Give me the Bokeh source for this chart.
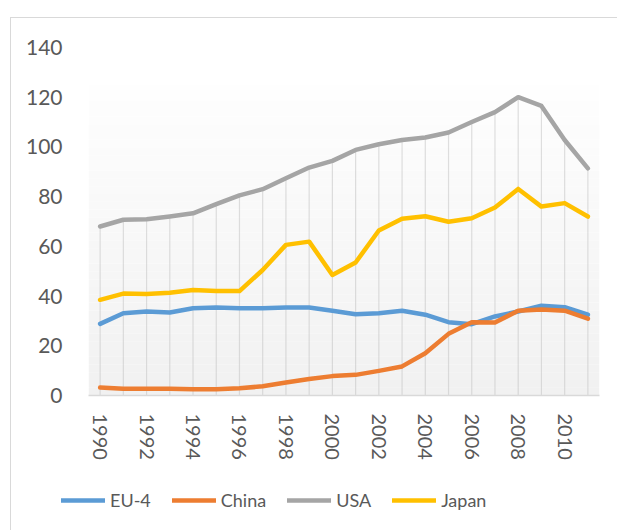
import math
from bokeh.plotting import figure
from bokeh.layouts import column, row
from bokeh.models import (Range1d, FixedTicker, BoxAnnotation, Legend, LegendItem)
from bokeh.embed import file_html
from bokeh.resources import INLINE

years = list(range(1990, 2012))
eu4 = [28.8, 33.1, 33.8, 33.4, 35.1, 35.4, 35.1, 35.1, 35.4, 35.4, 34.1,
       32.7, 33.1, 34.1, 32.5, 29.5, 28.7, 31.8, 33.8, 36.1, 35.5, 32.5]
china = [3.2, 2.7, 2.7, 2.7, 2.5, 2.5, 2.9, 3.7, 5.2, 6.6, 7.8,
         8.3, 9.9, 11.7, 17.0, 24.8, 29.5, 29.4, 34.1, 34.6, 34.1, 30.9]
usa = [68.0, 70.7, 70.9, 72.0, 73.3, 77.0, 80.5, 83.0, 87.4, 91.7, 94.4,
       98.8, 101.1, 102.8, 103.8, 105.8, 110.0, 114.0, 120.0, 116.5, 102.8, 91.4]
japan = [38.5, 41.0, 40.8, 41.3, 42.4, 42.0, 42.0, 50.5, 60.6, 61.9, 48.5,
         53.5, 66.4, 71.1, 72.1, 69.9, 71.3, 75.6, 83.1, 76.0, 77.4, 72.0]
series_names = ["EU-4", "China", "USA", "Japan"]
series_colors = ["#5b9bd5", "#ed7d31", "#a5a5a5", "#ffc000"]
x_ticks = list(range(1990, 2011, 2))
y_ticks = [0, 20, 40, 60, 80, 100, 120, 140]

FONT = "Lato"
TXT = "#595959"
LW = 4.5

p = figure(width=617, height=470, output_backend="svg", toolbar_location=None,
           x_range=Range1d(1989.5, 2011.5), y_range=Range1d(0, 140),
           min_border_left=88, min_border_right=18, min_border_top=47,
           min_border_bottom=75)
p.outline_line_color = None
p.background_fill_color = "white"
p.border_fill_color = None
p.xgrid.visible = False
p.ygrid.visible = False

# gradient-like plot background
n = 40
top_v = 124.7
for i in range(n):
    b = top_v * i / n
    t = top_v * (i + 1) / n
    f = i / (n - 1)
    c = int(round(0xf1 + (0xfe - 0xf1) * f))
    p.add_layout(BoxAnnotation(bottom=b, top=t + 0.05, fill_color=f"#{c:02x}{c:02x}{c:02x}",
                               fill_alpha=1, line_color=None, level="underlay"))

# drop lines
tops = [max(a, b, c, d) for a, b, c, d in zip(eu4, china, usa, japan)]
p.segment(x0=years, y0=[0] * len(years), x1=years, y1=tops,
          line_color="#bfbfbf", line_width=1.2, line_dash="1 1")

for name, vals, col in zip(series_names, [eu4, china, usa, japan], series_colors):
    p.line(years, vals, line_color=col, line_width=LW, line_join="round", line_cap="round")

# axes
p.xaxis.ticker = FixedTicker(ticks=x_ticks)
p.xaxis.major_label_orientation = -math.pi / 2
p.xaxis.major_tick_line_color = None
p.xaxis.minor_tick_line_color = None
p.xaxis.axis_line_color = "#d9d9d9"
p.xaxis.axis_line_width = 1.5
p.xaxis.major_label_standoff = 12
p.xaxis.major_label_text_font = FONT
p.xaxis.major_label_text_font_size = "20px"
p.xaxis.major_label_text_color = TXT

p.yaxis.ticker = FixedTicker(ticks=y_ticks)
p.yaxis.major_tick_line_color = None
p.yaxis.minor_tick_line_color = None
p.yaxis.axis_line_color = None
p.yaxis.major_label_standoff = 20
p.yaxis.major_label_text_font = FONT
p.yaxis.major_label_text_font_size = "21px"
p.yaxis.major_label_text_color = TXT

# legend strip
lg = figure(width=617, height=60, output_backend="svg", toolbar_location=None,
            x_range=Range1d(0, 617), y_range=Range1d(0, 60),
            min_border_left=0, min_border_right=0, min_border_top=0, min_border_bottom=0)
lg.axis.visible = False
lg.grid.visible = False
lg.outline_line_color = None
lg.background_fill_color = None
lg.border_fill_color = None
items = []
for name, vals, col in zip(series_names, [eu4, china, usa, japan], series_colors):
    r = lg.line([years[0]], [vals[0]], line_color=col, line_width=LW, line_cap="round")
    items.append(LegendItem(label=name, renderers=[r]))
legend = Legend(items=items, orientation="horizontal", location=(61, 19),
                padding=0, margin=0, spacing=21, label_standoff=5,
                glyph_width=44, glyph_height=20, label_height=20,
                label_text_font=FONT, label_text_font_size="18px",
                label_text_color=TXT, border_line_color=None,
                background_fill_alpha=0)
lg.add_layout(legend)

layout = column(p, row(lg), spacing=0)
layout.styles = {
    "background": "linear-gradient(#d9d9d9,#d9d9d9) 10px 17px / 100% 1px no-repeat, "
                  "linear-gradient(#d9d9d9,#d9d9d9) 10px 17px / 1px 100% no-repeat, white"
}

open("out.html", "w").write(file_html(layout, INLINE))
